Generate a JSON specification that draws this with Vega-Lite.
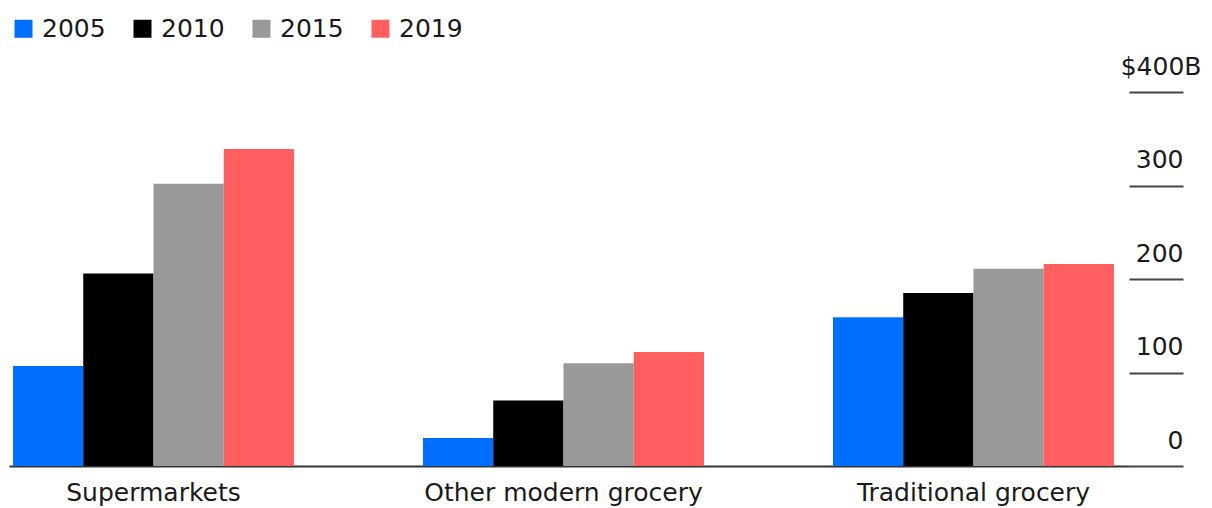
{
  "$schema": "https://vega.github.io/schema/vega-lite/v6.json",
  "autosize": {"type": "none"},
  "padding": {"left": 9, "top": 92, "right": 83, "bottom": 42},
  "width": 1120,
  "height": 374,
  "background": "white",
  "data": {
    "values": [
      {"category": "Supermarkets", "year": "2005", "value": 107},
      {"category": "Supermarkets", "year": "2010", "value": 206},
      {"category": "Supermarkets", "year": "2015", "value": 302},
      {"category": "Supermarkets", "year": "2019", "value": 339},
      {"category": "Other modern grocery", "year": "2005", "value": 30},
      {"category": "Other modern grocery", "year": "2010", "value": 70},
      {"category": "Other modern grocery", "year": "2015", "value": 110},
      {"category": "Other modern grocery", "year": "2019", "value": 122},
      {"category": "Traditional grocery", "year": "2005", "value": 159},
      {"category": "Traditional grocery", "year": "2010", "value": 185},
      {"category": "Traditional grocery", "year": "2015", "value": 211},
      {"category": "Traditional grocery", "year": "2019", "value": 216}
    ]
  },
  "mark": {"type": "bar"},
  "encoding": {
    "x": {
      "field": "category",
      "type": "nominal",
      "sort": ["Supermarkets", "Other modern grocery", "Traditional grocery"],
      "scale": {"paddingInner": 0.3146, "paddingOuter": 0.0232, "align": 0.21},
      "axis": {
        "title": null,
        "orient": "bottom",
        "labelAngle": 0,
        "ticks": false,
        "domain": true,
        "domainColor": "#333333",
        "domainWidth": 2,
        "labelFont": "DejaVu Sans",
        "labelFontSize": 25,
        "labelColor": "#1a1a1a",
        "labelPadding": 14,
        "labelBaseline": "top",
        "labelLimit": 0,
        "labelOverlap": false
      }
    },
    "xOffset": {
      "field": "year",
      "type": "nominal",
      "scale": {"paddingInner": 0, "paddingOuter": 0}
    },
    "y": {
      "field": "value",
      "type": "quantitative",
      "scale": {"domain": [0, 400], "nice": false},
      "axis": {
        "title": null,
        "orient": "right",
        "values": [0, 100, 200, 300, 400],
        "grid": false,
        "domain": false,
        "tickSize": 54,
        "tickWidth": 2,
        "tickColor": "#444444",
        "labelExpr": "datum.value == 400 ? '$400B' : datum.label",
        "labelAlign": "right",
        "labelBaseline": "alphabetic",
        "labelOffset": -18,
        "labelPadding": {"condition": {"test": "datum.value == 400", "value": 18}, "value": 0},
        "labelFont": "DejaVu Sans",
        "labelFontSize": 25,
        "labelColor": "#1a1a1a",
        "labelOverlap": false,
        "labelBound": false,
        "labelFlush": false,
        "labelLimit": 0
      }
    },
    "color": {
      "field": "year",
      "type": "nominal",
      "scale": {
        "domain": ["2005", "2010", "2015", "2019"],
        "range": ["#006fff", "#000000", "#999999", "#ff5f5f"]
      },
      "legend": {
        "title": null,
        "orient": "none",
        "direction": "horizontal",
        "legendX": 2,
        "legendY": -76,
        "padding": 0,
        "symbolType": "square",
        "symbolSize": 324,
        "symbolStrokeWidth": 0,
        "labelFont": "DejaVu Sans",
        "labelFontSize": 25,
        "labelColor": "#1a1a1a",
        "labelOffset": 6,
        "columnPadding": 24,
        "labelLimit": 0
      }
    }
  },
  "config": {
    "view": {"stroke": null}
  }
}
